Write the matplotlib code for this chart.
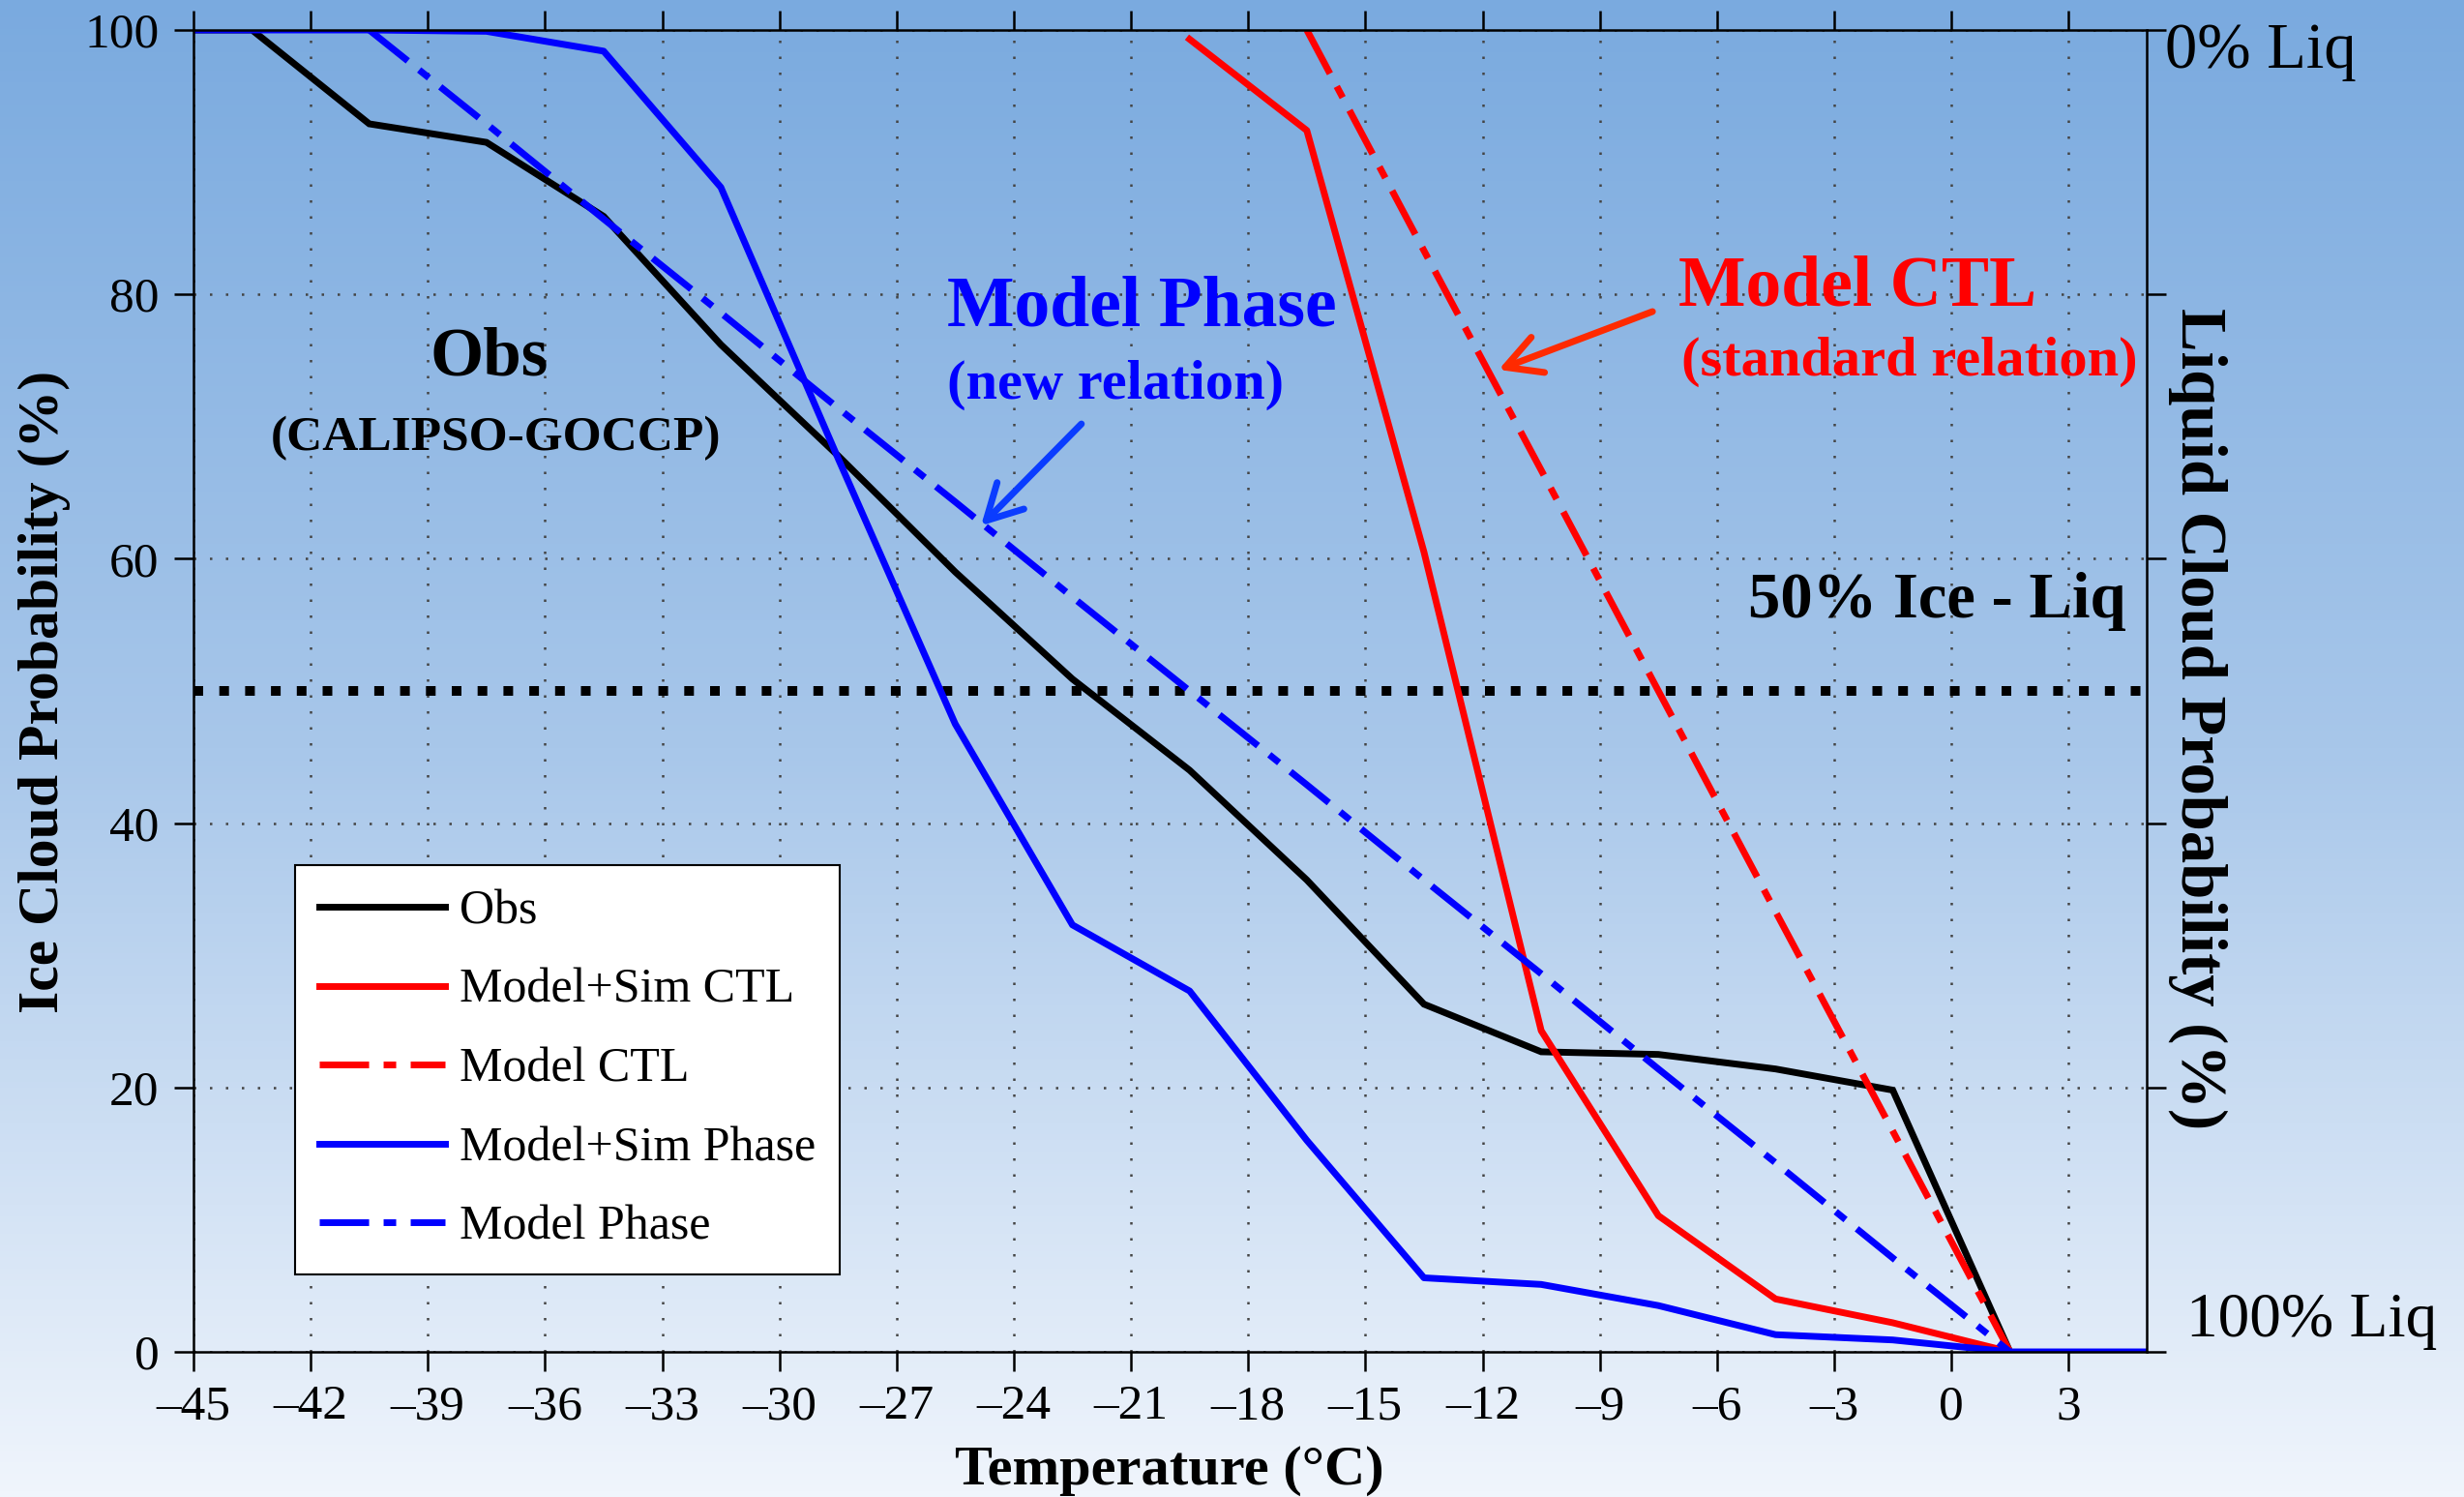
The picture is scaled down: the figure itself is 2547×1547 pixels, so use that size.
import numpy as np
import matplotlib
matplotlib.use("Agg")
import matplotlib.pyplot as plt
from matplotlib.colors import LinearSegmentedColormap

plt.rcParams['font.family'] = ['Liberation Serif', 'DejaVu Serif']

# ---- data -------------------------------------------------------------
obs_t = [-46.5, -43.5, -40.5, -37.5, -34.5, -31.5, -28.5, -25.5, -22.5,
         -19.5, -16.5, -13.5, -10.5, -7.5, -4.5, -1.5, 1.5]
obs = [100, 100, 92.9, 91.5, 85.9, 76.2, 67.8, 59.0, 50.9,
       44.0, 35.7, 26.3, 22.7, 22.5, 21.4, 19.8, 0]

sim_ctl_t = [-19.5, -16.5, -13.5, -10.5, -7.5, -4.5, -1.5, 1.5]
sim_ctl = [99.3, 92.4, 60.5, 24.3, 10.3, 4.0, 2.2, 0]

ctl_t = [-16.5, -13.5, -10.5, -7.5, -4.5, -1.5, 1.5]
ctl = [100, 83.3, 66.7, 50.0, 33.3, 16.7, 0]

sim_phase_t = [-46.5, -43.5, -40.5, -37.5, -34.5, -31.5, -28.5, -25.5, -22.5,
               -19.5, -16.5, -13.5, -10.5, -7.5, -4.5, -1.5, 1.5, 4.5, 7.5]
sim_phase = [100, 100, 100, 99.9, 98.4, 88.1, 67.6, 47.5, 32.3,
             27.3, 16.0, 5.6, 5.1, 3.5, 1.3, 0.9, 0, 0, 0]

phase_t = [-40.5, -37.5, -34.5, -31.5, -28.5, -25.5, -22.5, -19.5,
           -16.5, -13.5, -10.5, -7.5, -4.5, -1.5, 1.5]
phase = [100, 92.9, 85.7, 78.6, 71.4, 64.3, 57.1, 50.0,
         42.9, 35.7, 28.6, 21.4, 14.3, 7.1, 0]

x_ticks = list(range(-45, 4, 3))
y_ticks = [0, 20, 40, 60, 80, 100]

# ---- figure -----------------------------------------------------------
W, H = 2547, 1547
fig = plt.figure(figsize=(W / 100, H / 100), dpi=100)


def fx(px):
    return px / W


def fy(py):
    return 1 - py / H


# vertical sky gradient behind everything
bg = fig.add_axes([0, 0, 1, 1], zorder=0)
grad = np.linspace(0, 1, 512).reshape(-1, 1)
sky = LinearSegmentedColormap.from_list('sky', ['#7aaadf', '#a8c7ea', '#f0f5fc'])
bg.imshow(grad, aspect='auto', cmap=sky, extent=[0, 1, 0, 1], origin='upper')
bg.set_axis_off()

ax = fig.add_axes([fx(200), fy(1397), 2019 / W, 1366 / H], zorder=1)
ax.patch.set_visible(False)

lw = 5
dashdot = (0, (7.35, 2.16, 1.87, 2.16))

ax.plot(obs_t, obs, color='black', lw=lw, label='Obs', solid_joinstyle='miter')
ax.plot(sim_ctl_t, sim_ctl, color='#ff0000', lw=lw, label='Model+Sim CTL')
ax.plot(ctl_t, ctl, color='#ff0000', lw=lw, ls=dashdot, label='Model CTL')
ax.plot(sim_phase_t, sim_phase, color='#0000ff', lw=lw, label='Model+Sim Phase')
ax.plot(phase_t, phase, color='#0000ff', lw=lw, ls=dashdot, label='Model Phase')

# 50 % ice / liquid reference line
ax.axhline(50, color='black', lw=7.2, ls=(0, (1.0, 1.67)), zorder=1.5)

ax.set_xlim(-45, 5)
ax.set_ylim(0, 100)
ax.set_xticks(x_ticks)
ax.set_xticklabels([str(t).replace('-', '\u2013') for t in x_ticks])
ax.set_yticks(y_ticks)
ax.set_axisbelow(True)
ax.grid(True, color='#444444', lw=1.8, ls=(0, (1, 5.6)))

for s in ax.spines.values():
    s.set_linewidth(1.8)
ax.tick_params(axis='both', which='major', direction='out', length=14.4,
               width=1.8, labelsize=37, top=True, right=True,
               labeltop=False, labelright=False)
ax.tick_params(axis='x', pad=10)
ax.tick_params(axis='y', pad=11)

leg = ax.legend(loc='upper left', bbox_to_anchor=(fx(305), fy(894)),
                bbox_transform=fig.transFigure, borderaxespad=0,
                fontsize=36, handlelength=2.6, handletextpad=0.3,
                labelspacing=0.7, borderpad=0.5, fancybox=False,
                framealpha=1, edgecolor='black')
leg.get_frame().set_linewidth(1.5)

# ---- annotations ------------------------------------------------------
ax.text(-37.42, 73.9, 'Obs', fontsize=51, fontweight='bold',
        ha='center', va='baseline', zorder=5)
ax.text(-37.27, 68.2, '(CALIPSO-GOCCP)', fontsize=37, fontweight='bold',
        ha='center', va='baseline', zorder=5)

ax.text(-20.73, 77.6, 'Model Phase', fontsize=53, fontweight='bold',
        color='#0000ff', ha='center', va='baseline', zorder=5)
ax.text(-21.4, 72.1, '(new relation)', fontsize=42, fontweight='bold',
        color='#0000ff', ha='center', va='baseline', zorder=5)
ax.annotate('', xy=(-24.84, 62.5), xytext=(-22.27, 70.2),
            arrowprops=dict(arrowstyle='->,head_length=1.3,head_width=0.7',
                            color='#0a3cff', lw=5, mutation_scale=20,
                            shrinkA=0, shrinkB=0), zorder=5)

ax.text(-2.4, 79.2, 'Model CTL', fontsize=53, fontweight='bold',
        color='#ff0000', ha='center', va='baseline', zorder=5)
ax.text(-1.07, 73.9, '(standard relation)', fontsize=42, fontweight='bold',
        color='#ff0000', ha='center', va='baseline', zorder=5)
ax.annotate('', xy=(-11.59, 74.3), xytext=(-7.65, 78.7),
            arrowprops=dict(arrowstyle='->,head_length=1.3,head_width=0.7',
                            color='#ff2a00', lw=5, mutation_scale=20,
                            shrinkA=0, shrinkB=0), zorder=5)

ax.text(4.48, 55.6, '50% Ice - Liq', fontsize=48, fontweight='bold',
        ha='right', va='baseline', zorder=5)

# right-hand liquid scale end labels
fig.text(fx(2238), fy(70), '0% Liq', fontsize=48, ha='left', va='baseline')
fig.text(fx(2260), fy(1381), '100% Liq', fontsize=47, ha='left', va='baseline')

# axis titles
fig.text(fx(60), fy(715), 'Ice Cloud Probability (%)', fontsize=43,
         fontweight='bold', rotation=90, rotation_mode='anchor',
         ha='center', va='baseline')
fig.text(fx(2255), fy(743), 'Liquid Cloud Probability (%)', fontsize=48,
         fontweight='bold', rotation=-90, rotation_mode='anchor',
         ha='center', va='baseline')
fig.text(fx(1209), fy(1534), 'Temperature (°C)', fontsize=42,
         fontweight='bold', ha='center', va='baseline')

fig.savefig('out.png', dpi=100)
